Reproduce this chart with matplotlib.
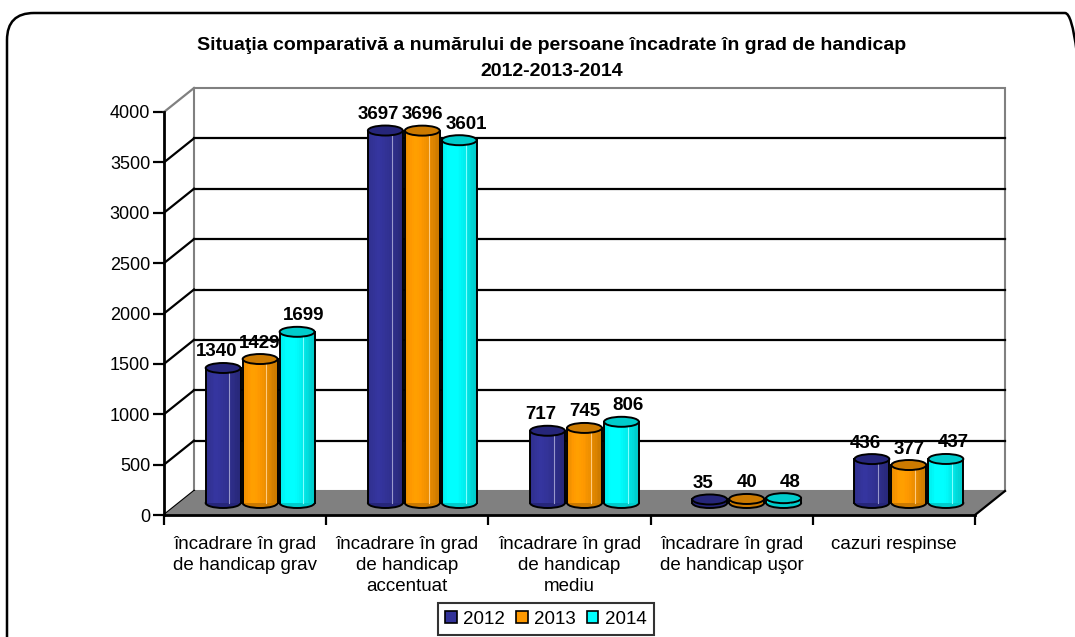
import numpy as np
import matplotlib
matplotlib.use('Agg')
from matplotlib import pyplot as plt
from matplotlib import colors
from matplotlib.patches import Rectangle, Ellipse, Polygon, Patch, FancyBboxPatch
from matplotlib.transforms import offset_copy

plt.rcParams['font.family'] = ['Liberation Sans', 'DejaVu Sans']

categories = ['încadrare în grad\nde handicap grav',
              'încadrare în grad\nde handicap\naccentuat',
              'încadrare în grad\nde handicap\nmediu',
              'încadrare în grad\nde handicap uşor',
              'cazuri respinse']
years = ['2012', '2013', '2014']
values_2012 = [1340, 3697, 717, 35, 436]
values_2013 = [1429, 3696, 745, 40, 377]
values_2014 = [1699, 3601, 806, 48, 437]
y_ticks = [0, 500, 1000, 1500, 2000, 2500, 3000, 3500, 4000]

series = [values_2012, values_2013, values_2014]
body_colors = ['#333399', '#FF9900', '#00FFFF']
top_colors = ['#26267A', '#CC7A00', '#00CCCC']

W, H = 1075, 637
fig = plt.figure(figsize=(W / 100, H / 100), dpi=100)

# rounded outer frame (in inches so the corners stay round)
frame = FancyBboxPatch((0.07, -0.3), 10.85, 6.54,
                       boxstyle='round,pad=0,rounding_size=0.27',
                       transform=fig.dpi_scale_trans, facecolor='none',
                       edgecolor='black', linewidth=1.8, zorder=-1)
fig.patches.append(frame)

ax_l, ax_r, ax_t, ax_b = 164, 975, 112, 515
ax = fig.add_axes([ax_l / W, (H - ax_b) / H, (ax_r - ax_l) / W, (ax_b - ax_t) / H])
ax.set_xlim(0, 5)
ax.set_ylim(0, 4000)
ax.patch.set_visible(False)

# depth of the pseudo 3d box, px -> data units
ddx = 30 * 5 / (ax_r - ax_l)
ddy = 24 * 4000 / (ax_b - ax_t)

# back wall
ax.add_patch(Rectangle((ddx, ddy), 5, 4000, facecolor='white', edgecolor='#808080',
                       linewidth=1.5, zorder=1, clip_on=False))
for v in y_ticks[1:-1]:
    ax.plot([ddx, 5 + ddx], [v + ddy, v + ddy], color='black', lw=1.6, zorder=2, clip_on=False)
# side wall diagonals
for v in y_ticks:
    ax.plot([0, ddx], [v, v + ddy], color='#808080' if v == 4000 else 'black',
            lw=1.6, zorder=2, clip_on=False)

# floor
ax.add_patch(Polygon([(0, 0), (5, 0), (5 + ddx, ddy), (ddx, ddy)], closed=True,
                     facecolor='#808080', edgecolor='none', zorder=2, clip_on=False))
ax.plot([5, 5 + ddx], [0, ddy], color='black', lw=1.6, zorder=3, clip_on=False)
ax.plot([0, 5], [0, 0], color='black', lw=2, zorder=3, clip_on=False)

# cylinders
bw = 0.215
step = 0.228
eh = 10 * 4000 / (ax_b - ax_t)
base = ddy / 2
n_sl = 20
knots_t = [0.0, 0.3, 0.6, 1.0]
knots_f = [0.92, 1.05, 0.95, 0.78]


def shade(c, f):
    rgb = np.array(colors.to_rgb(c)) * f
    return tuple(np.clip(rgb, 0, 1))


labels = [[None] * 3 for _ in range(5)]
for k, vals in enumerate(series):
    xs = np.arange(5) + 0.5 + ddx / 2 + (k - 1) * step
    # bottom ellipse
    for x in xs:
        ax.add_patch(Ellipse((x, base), bw, eh, facecolor=top_colors[k], edgecolor='black',
                             lw=1.4, zorder=4 + k, clip_on=False))
    # body gradient slices
    for j in range(n_sl):
        t = (j + 0.5) / n_sl
        f = np.interp(t, knots_t, knots_f)
        ax.bar(xs - bw / 2 + j * bw / n_sl, vals, width=bw / n_sl * 1.05, bottom=base,
               align='edge', color=shade(body_colors[k], f), linewidth=0, zorder=4 + k,
               clip_on=False)
    for i, (x, v) in enumerate(zip(xs, vals)):
        hl = tuple(np.array(colors.to_rgb(body_colors[k])) * 0.5 + 0.5)
        ax.plot([x + bw * 0.18, x + bw * 0.18], [base, base + v], color=hl, lw=0.8,
                zorder=4 + k, clip_on=False)
        ax.plot([x - bw / 2, x - bw / 2], [base, base + v], color='black', lw=1.4,
                zorder=4 + k, clip_on=False)
        ax.plot([x + bw / 2, x + bw / 2], [base, base + v], color='black', lw=1.4,
                zorder=4 + k, clip_on=False)
        ax.add_patch(Ellipse((x, base + v), bw, eh, facecolor=top_colors[k], edgecolor='black',
                             lw=1.4, zorder=4 + k, clip_on=False))
        tr = offset_copy(ax.transData, fig=fig, x=(k - 1) * 5, y=0, units='points')
        labels[i][k] = ax.text(x, base + v + eh * 0.75, str(v), ha='center', va='bottom',
                               fontsize=13.5, fontweight='bold', zorder=10, clip_on=False,
                               transform=tr)

# push a label up when it runs into its right-hand neighbour
renderer = fig.canvas.get_renderer()
for grp in labels:
    for k in (1, 0):
        a = grp[k].get_window_extent(renderer)
        b = grp[k + 1].get_window_extent(renderer)
        if a.x1 > b.x0 - 1 and a.y0 < b.y1 and b.y0 < a.y1:
            lift = (b.y1 - a.y0) * 0.8 + 1
            grp[k].set_transform(offset_copy(grp[k].get_transform(), fig=fig, x=0, y=lift,
                                             units='dots'))

# axes styling
for s in ['top', 'right', 'bottom']:
    ax.spines[s].set_visible(False)
ax.spines['left'].set_linewidth(2)
ax.spines['left'].set_zorder(3)
ax.set_yticks(y_ticks)
ax.set_yticklabels([str(v) for v in y_ticks])
ax.tick_params(axis='y', direction='out', length=8, width=1.6, labelsize=13, pad=2)
ax.set_xticks(range(6))
ax.set_xticklabels([])
ax.tick_params(axis='x', direction='out', length=7, width=1.6)
ax.set_xticks(np.arange(5) + 0.5, minor=True)
ax.set_xticklabels(categories, minor=True, fontsize=13.5, linespacing=1.3)
ax.tick_params(axis='x', which='minor', length=0, pad=15)

fig.text(552 / W, 1 - 46 / H, 'Situaţia comparativă a numărului de persoane încadrate în grad de handicap',
         ha='center', va='center', fontsize=14, fontweight='bold')
fig.text(552 / W, 1 - 71 / H, '2012-2013-2014', ha='center', va='center',
         fontsize=14, fontweight='bold')

handles = [Patch(facecolor=c, edgecolor='black', linewidth=1.2) for c in body_colors]
leg = fig.legend(handles, years, loc='upper center', bbox_to_anchor=(546 / W, 1 - 603 / H),
                 ncol=3, fontsize=13.5, frameon=True, fancybox=False, handlelength=0.6,
                 handleheight=0.6, handletextpad=0.35, columnspacing=0.6, borderpad=0.4,
                 borderaxespad=0)
leg.get_frame().set_edgecolor('black')
leg.get_frame().set_linewidth(1.5)

plt.savefig('out.png', dpi=100)
plt.close()
